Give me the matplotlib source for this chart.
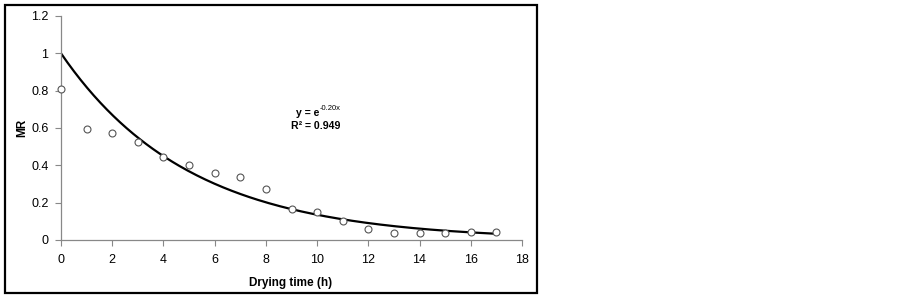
import matplotlib.pyplot as plt
import numpy as np
from matplotlib.patches import Rectangle

plt.rcParams['font.family'] = ['Liberation Sans', 'DejaVu Sans']

# drying time (h) and measured moisture ratio
tempo = [0, 1, 2, 3, 4, 5, 6, 7, 8, 9, 10, 11, 12, 13, 14, 15, 16, 17]
mr = [0.807, 0.595, 0.573, 0.527, 0.446, 0.402, 0.361, 0.339, 0.273,
      0.168, 0.148, 0.103, 0.061, 0.039, 0.039, 0.039, 0.043, 0.041]
k = 0.20  # fitted constant, y = e^(-kx)
xticks = [0, 2, 4, 6, 8, 10, 12, 14, 16, 18]
yticks = [0, 0.2, 0.4, 0.6, 0.8, 1, 1.2]
ytick_labels = ['0', '0.2', '0.4', '0.6', '0.8', '1', '1.2']

fig = plt.figure(figsize=(9.03, 2.97), dpi=100)
W, H = 903, 297
ax = fig.add_axes([61 / W, 1 - 240 / H, (522 - 61) / W, (240 - 16) / H])

# curva do modelo
xx = np.linspace(0, tempo[-1], 200)
ax.plot(xx, np.exp(-k * xx), color='black', lw=1.6, zorder=2)
ax.plot(tempo, mr, 'o', mfc='white', mec='#555555', ms=5, mew=0.8, zorder=3,
        clip_on=False)

ax.set_xlim(0, 18)
ax.set_ylim(0, 1.2)
ax.set_xticks(xticks)
ax.set_yticks(yticks)
ax.set_yticklabels(ytick_labels)
ax.tick_params(direction='out', length=4, color='#888888', labelsize=9,
               labelcolor='black', width=0.8)
ax.tick_params(axis='x', pad=6)
ax.tick_params(axis='y', pad=5)
for lado in ['top', 'right']:
    ax.spines[lado].set_visible(False)
for lado in ['left', 'bottom']:
    ax.spines[lado].set_color('#888888')
    ax.spines[lado].set_linewidth(0.9)

fig.text(291 / W, 1 - 283 / H, 'Drying time (h)', ha='center', va='center',
         fontsize=8.5, fontweight='bold')
fig.text(22 / W, 1 - 128 / H, 'MR', ha='center', va='center', rotation=90,
         fontsize=8.5, fontweight='bold')

# equação
fig.text(296 / W, 1 - 113 / H, 'y = e', fontsize=7.6, fontweight='bold',
         ha='left', va='center')
fig.text(319.5 / W, 1 - 109 / H, '-0.20x', fontsize=5.5, ha='left', va='center')
fig.text(315.5 / W, 1 - 126 / H, 'R² = 0.949', fontsize=7.6, fontweight='bold',
         ha='center', va='center')

# moldura externa
fig.patches.append(Rectangle((5 / W, 1 - 293 / H), (537 - 5) / W, (293 - 5) / H,
                             transform=fig.transFigure, fill=False,
                             edgecolor='black', lw=1.6))

plt.savefig('out.png', dpi=100)
